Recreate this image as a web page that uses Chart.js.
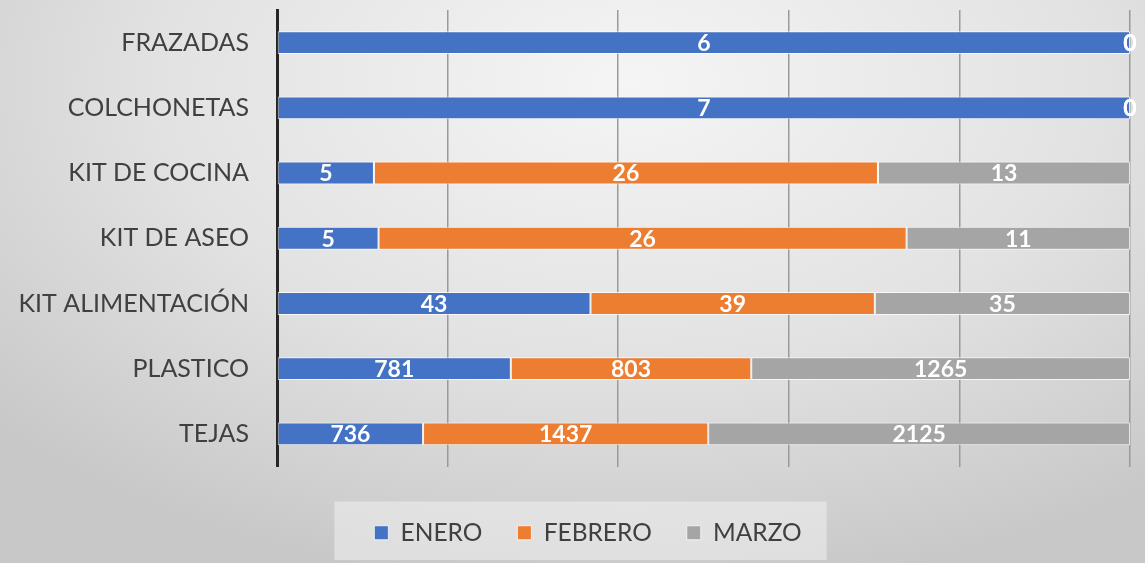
<!DOCTYPE html>
<html>
<head>
<meta charset="utf-8">
<script src="https://cdn.jsdelivr.net/npm/chart.js@4.4.1/dist/chart.umd.min.js"></script>
<style>
  html, body { margin: 0; padding: 0; }
  body {
    width: 1145px; height: 563px; overflow: hidden;
    background: radial-gradient(ellipse 75% 90% at 55% 15%, #f5f5f5 0%, #e2e2e2 55%, #c8c8c8 100%);
  }
  #wrap { position: relative; width: 1145px; height: 563px; }
</style>
</head>
<body>
<div id="wrap"><canvas id="chart"></canvas></div>
<script>
// categories, top to bottom
var categories = ['FRAZADAS', 'COLCHONETAS', 'KIT DE COCINA', 'KIT DE ASEO', 'KIT ALIMENTACIÓN', 'PLASTICO', 'TEJAS'];
var seriesNames = ['ENERO', 'FEBRERO', 'MARZO'];
var enero   = [6, 7, 5, 5, 43, 781, 736];
var febrero = [0, 0, 26, 26, 39, 803, 1437];
var marzo   = [0, 0, 13, 11, 35, 1265, 2125];
var colors = ['#4472C4', '#ED7D31', '#A5A5A5'];

var raw = [enero, febrero, marzo];
var totals = categories.map(function(c, i) { return enero[i] + febrero[i] + marzo[i]; });

// 100% stacked: percentage of each row
var datasets = raw.map(function(vals, s) {
  return {
    label: seriesNames[s],
    data: vals.map(function(v, i) { return v / totals[i] * 100; }),
    raw: vals,
    backgroundColor: colors[s],
    borderColor: 'rgba(255,255,255,0.75)',
    borderWidth: 1,
    borderSkipped: false,
    categoryPercentage: 0.35,
    barPercentage: 1
  };
});

// value labels in the middle of each segment
var valueLabels = {
  id: 'valueLabels',
  afterDatasetsDraw: function(chart) {
    var ctx = chart.ctx;
    ctx.save();
    ctx.font = 'bold 23px Lato';
    ctx.fillStyle = '#ffffff';
    ctx.textAlign = 'center';
    ctx.textBaseline = 'middle';
    chart.data.datasets.forEach(function(ds, di) {
      chart.getDatasetMeta(di).data.forEach(function(bar, i) {
        var p = bar.getCenterPoint();
        ctx.fillText(String(ds.raw[i]), p.x, p.y + 1);
      });
    });
    ctx.restore();
  }
};

// move the legend a bit right, like the original
var legendShift = {
  id: 'legendShift',
  afterLayout: function(chart) {
    chart.legend.left += 20;
    chart.legend.right += 20;
  }
};

// lighter box behind the legend
var legendBox = {
  id: 'legendBox',
  beforeDraw: function(chart) {
    var hb = chart.legend.legendHitBoxes;
    if (!hb || !hb.length) return;
    var l = hb[0].left, r = hb[hb.length - 1].left + hb[hb.length - 1].width;
    var t = hb[0].top, h = hb[0].height;
    var ctx = chart.ctx;
    ctx.save();
    ctx.fillStyle = 'rgba(240,240,240,0.55)';
    ctx.fillRect(l - 40, t - 19, r - l + 65, h + 34);
    ctx.restore();
  }
};

new Chart(document.getElementById('chart'), {
  type: 'bar',
  data: { labels: categories, datasets: datasets },
  plugins: [legendShift, legendBox, valueLabels],
  options: {
    indexAxis: 'y',
    responsive: true,
    maintainAspectRatio: false,
    animation: false,
    layout: { padding: { left: 6, right: 15, top: 10, bottom: 8 } },
    scales: {
      x: {
        stacked: true,
        min: 0, max: 100,
        ticks: { display: false, stepSize: 20 },
        grid: { color: '#9a9a9a', lineWidth: 1.5, drawTicks: false },
        border: { display: false },
        afterFit: function(scale) { scale.height = 19; }
      },
      y: {
        stacked: true,
        grid: { display: false, drawTicks: false },
        border: { color: '#262626', width: 3 },
        ticks: { color: '#404040', font: { family: 'Lato', size: 25 }, padding: 28 },
        afterFit: function(scale) {
          scale.width = 271;
          scale.paddingTop = 0;
          scale.paddingBottom = 0;
        }
      }
    },
    plugins: {
      legend: {
        position: 'bottom',
        labels: {
          boxWidth: 14, boxHeight: 14, padding: 35,
          color: '#404040',
          font: { family: 'Lato', size: 24.5 }
        }
      },
      tooltip: { enabled: false }
    }
  }
});
</script>
</body>
</html>
